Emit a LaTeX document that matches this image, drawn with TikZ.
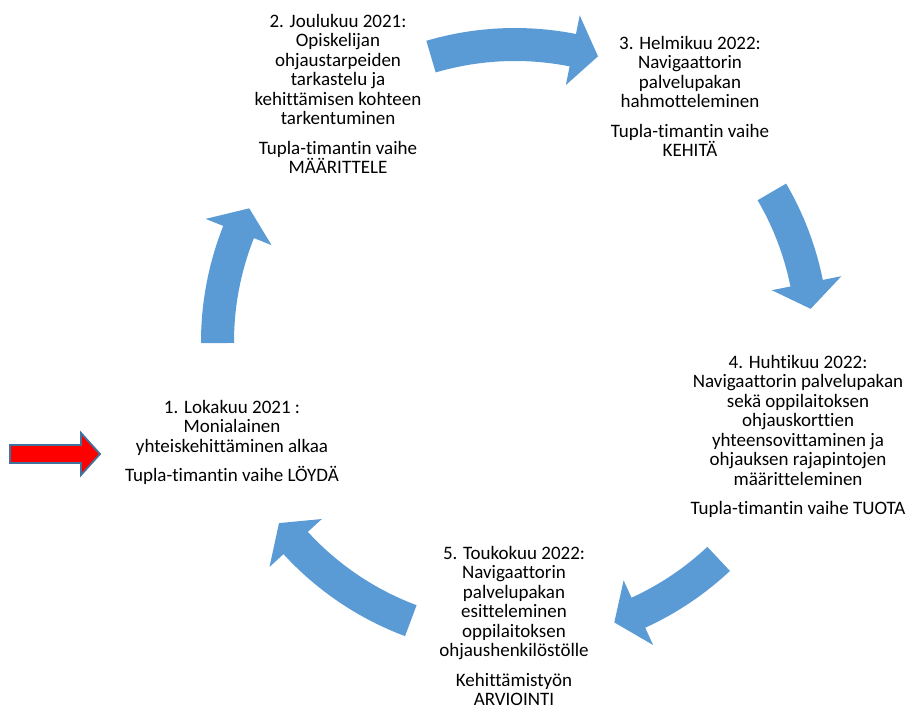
\documentclass[tikz,border=0pt]{standalone}
\usepackage{fontspec}
\setmainfont[RawFeature={-liga;-clig;-calt;-dlig}]{Carlito}
\definecolor{arrowblue}{HTML}{5B9BD5}
\definecolor{redfill}{HTML}{FF0000}
\definecolor{redline}{HTML}{41719C}
\newcommand\cycarrow[2]{%
  \pgfmathsetmacro\baseang{#2-5}%
  \fill[cyclearrow] ([shift={(515,342)}]#1:314)
    arc[start angle=#1, end angle=\baseang, radius=314]
    -- ([shift={(515,342)}]\baseang:333)
    -- ([shift={(515,342)}]#2:297.5)
    -- ([shift={(515,342)}]\baseang:262)
    -- ([shift={(515,342)}]\baseang:281)
    arc[start angle=\baseang, end angle=#1, radius=281] -- cycle;}
\begin{document}
\begin{tikzpicture}[x=1pt,y=-1pt,
  stepbox/.style={align=center, inner sep=0pt, anchor=north,
    font=\fontsize{19}{19.5}\selectfont},
  cyclearrow/.style={fill=arrowblue, draw=none},
  startarrow/.style={fill=redfill, draw=redline, line width=1.8pt, line join=miter}]
\useasboundingbox (0,0) rectangle (909,711);

\cycarrow{-106.4}{-73.8}
\cycarrow{-180.2}{-153.3}
\cycarrow{-30.3}{-6.4}
\cycarrow{46.8}{70.5}
\cycarrow{110.5}{142.5}

\node[stepbox] (n1) at (232,400) {1. Lokakuu 2021 :\\Monialainen\\yhteiskehittäminen alkaa\\[10pt]Tupla-timantin vaihe LÖYDÄ};
\node[stepbox] (n2) at (338,14) {2. Joulukuu 2021:\\Opiskelijan\\ohjaustarpeiden\\tarkastelu ja\\kehittämisen kohteen\\tarkentuminen\\[10pt]Tupla-timantin vaihe\\MÄÄRITTELE};
\node[stepbox] (n3) at (690,36) {3. Helmikuu 2022:\\Navigaattorin\\palvelupakan\\hahmotteleminen\\[10pt]Tupla-timantin vaihe\\KEHITÄ};
\node[stepbox] (n4) at (798,355) {4. Huhtikuu 2022:\\Navigaattorin palvelupakan\\sekä oppilaitoksen\\ohjauskorttien\\yhteensovittaminen ja\\ohjauksen rajapintojen\\määritteleminen\\[10pt]Tupla-timantin vaihe TUOTA};
\node[stepbox] (n5) at (514,546) {5. Toukokuu 2022:\\Navigaattorin\\palvelupakan\\esitteleminen\\oppilaitoksen\\ohjaushenkilöstölle\\[10pt]Kehittämistyön\\ARVIOINTI};

\draw[startarrow] (10,445) -- (81,445) -- (81,433) -- (100,454) -- (81,475) -- (81,463) -- (10,463) -- cycle;
\end{tikzpicture}
\end{document}
